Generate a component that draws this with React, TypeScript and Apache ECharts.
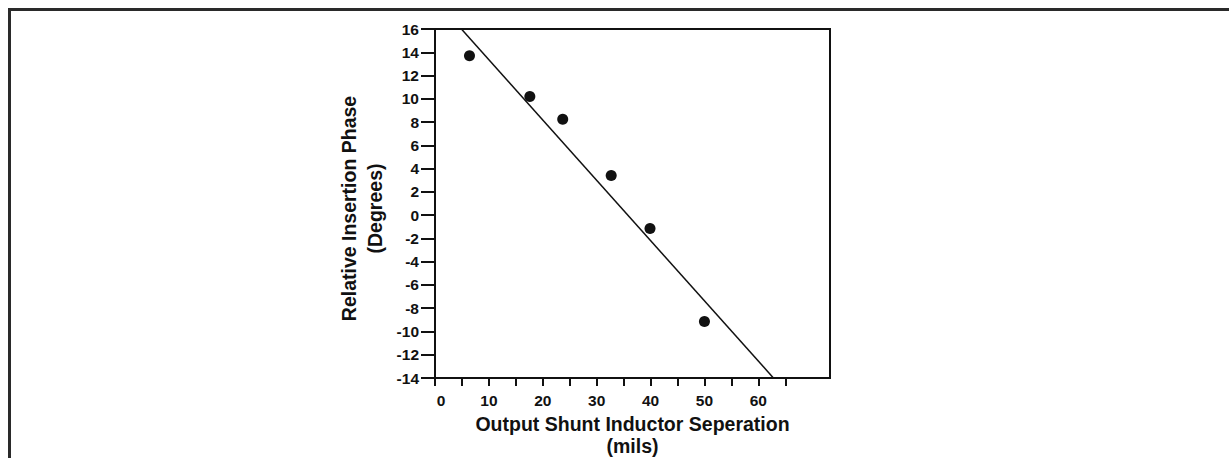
import React, { useEffect, useRef } from "react";
import * as echarts from "echarts";

const pointsX = [6.4, 17.6, 23.7, 32.7, 39.9, 50.0];
const pointsY = [13.7, 10.2, 8.25, 3.4, -1.15, -9.15];
const fitX = [4.9, 62.8];
const fitY = [16, -14];
const xTickValues = [0, 5, 10, 15, 20, 25, 30, 35, 40, 45, 50, 55, 60, 65];
const xLabelValues = [0, 10, 20, 30, 40, 50, 60];
const xTitle = "Output Shunt Inductor Seperation\n(mils)";
const yTitle = "Relative Insertion Phase\n(Degrees)";

const FONT = "'Liberation Sans', Arial, sans-serif";
const INK = "#111111";

export default function App() {
  const ref = useRef<HTMLDivElement>(null);
  useEffect(() => {
    if (!ref.current) return;
    const chart = echarts.init(ref.current, undefined, { renderer: "svg" });
    chart.setOption({
      animation: false,
      backgroundColor: "#ffffff",
      textStyle: { fontFamily: FONT },
      graphic: [
        {
          type: "rect",
          shape: { x: 9.5, y: 9.5, width: 1400, height: 600 },
          style: { fill: "none", stroke: "#2a2a2a", lineWidth: 3 },
          silent: true,
        },
      ],
      grid: {
        left: 435,
        top: 29,
        width: 395,
        height: 349,
        containLabel: false,
        outerBoundsMode: "none",
        show: true,
        borderColor: INK,
        borderWidth: 2,
        backgroundColor: "transparent",
      },
      xAxis: {
        type: "value",
        min: 0,
        max: 73.3,
        splitLine: { show: false },
        axisLine: { show: true, onZero: false, lineStyle: { color: INK, width: 2 } },
        axisTick: {
          show: true,
          inside: false,
          length: 8,
          customValues: xTickValues,
          lineStyle: { color: INK, width: 2 },
        },
        axisLabel: {
          customValues: xLabelValues,
          margin: 14,
          color: INK,
          fontWeight: "bold",
          fontSize: 15.5,
          fontFamily: FONT,
          formatter: (v: number) => (v === 0 ? "{z|0}" : String(v)),
          rich: {
            z: { padding: [0, 0, 0, 12], fontWeight: "bold", fontSize: 15.5, color: INK, fontFamily: FONT },
          },
        },
        name: xTitle,
        nameLocation: "middle",
        nameGap: 34,
        nameTextStyle: {
          color: INK,
          fontWeight: "bold",
          fontSize: 19.5,
          lineHeight: 22,
          fontFamily: FONT,
        },
      },
      yAxis: {
        type: "value",
        min: -14,
        max: 16,
        interval: 2,
        splitLine: { show: false },
        axisLine: { show: true, onZero: false, lineStyle: { color: INK, width: 2 } },
        axisTick: { show: true, inside: false, length: 14, lineStyle: { color: INK, width: 2 } },
        axisLabel: {
          margin: 16,
          color: INK,
          fontWeight: "bold",
          fontSize: 15.5,
          fontFamily: FONT,
        },
        name: yTitle,
        nameLocation: "middle",
        nameRotate: 90,
        nameGap: 47,
        nameTextStyle: {
          color: INK,
          fontWeight: "bold",
          fontSize: 19.5,
          lineHeight: 26,
          fontFamily: FONT,
          padding: [0, 10, 0, 0],
        },
      },
      series: [
        {
          type: "line",
          data: fitX.map((x, i) => [x, fitY[i]]),
          showSymbol: false,
          symbol: "none",
          lineStyle: { color: INK, width: 1.5 },
          z: 2,
        },
        {
          type: "scatter",
          data: pointsX.map((x, i) => [x, pointsY[i]]),
          symbol: "circle",
          symbolSize: 11,
          itemStyle: { color: INK, opacity: 1 },
          z: 3,
        },
      ],
    });
    return () => chart.dispose();
  }, []);
  return (
    <div
      ref={ref}
      style={{ position: "fixed", left: 0, top: 0, width: 1229, height: 458 }}
    />
  );
}
